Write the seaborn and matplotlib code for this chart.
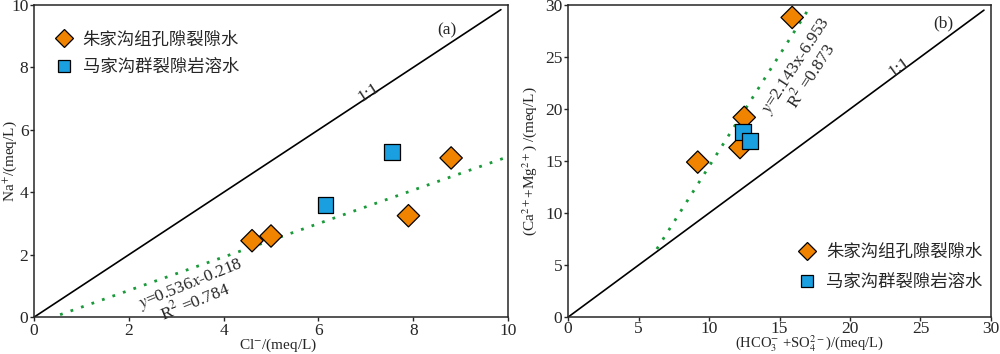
import matplotlib.pyplot as plt
import numpy as np
import pandas as pd
import seaborn as sns

# ---- data ----
groups = ["朱家沟组孔隙裂隙水", "马家沟群裂隙岩溶水"]

# (a) Cl- vs Na+
a_cl = [4.6, 5.0, 7.9, 8.8, 6.15, 7.55]
a_na = [2.45, 2.6, 3.25, 5.1, 3.6, 5.3]
a_group = [groups[0]] * 4 + [groups[1]] * 2

# (b) HCO3- + SO4 2- vs Ca2+ + Mg2+
b_anion = [9.2, 12.2, 12.5, 15.9, 12.4, 12.9]
b_cation = [14.9, 16.3, 19.2, 28.8, 17.8, 16.9]
b_group = [groups[0]] * 4 + [groups[1]] * 2

# fitted lines (end points) and 1:1 lines
fit_a_x = [0.55, 10.0]
fit_a_y = [0.08, 5.14]
fit_b_x = [6.3, 17.2]
fit_b_y = [6.55, 29.9]
one_a = [0, 9.85]
one_b = [0, 29.5]

sns.set_style("ticks")
plt.rcParams["font.family"] = ["Liberation Serif", "Noto Sans CJK SC"]
plt.rcParams["mathtext.fontset"] = "stix"

palette = {groups[0]: "#f08300", groups[1]: "#1aa0e0"}
markers = {groups[0]: "D", groups[1]: "s"}
cjk = ["Noto Sans CJK SC", "DejaVu Sans"]
fs = 12.5
lab_fs = 11

fig = plt.figure(figsize=(10, 3.54), dpi=100)
ax1 = fig.add_axes([0.034, 0.104, 0.474, 0.882])
ax2 = fig.add_axes([0.568, 0.104, 0.423, 0.882])

df_a = pd.DataFrame({"x": a_cl, "y": a_na, "group": a_group})
df_b = pd.DataFrame({"x": b_anion, "y": b_cation, "group": b_group})

for ax, df, one, fx, fy in [
    (ax1, df_a, one_a, fit_a_x, fit_a_y),
    (ax2, df_b, one_b, fit_b_x, fit_b_y),
]:
    ax.plot(one, one, color="black", lw=1.2, zorder=1)
    ax.plot(fx, fy, color="#1a9a3a", lw=2.0, ls=(0, (1, 3)), zorder=1)
    sns.scatterplot(
        data=df, x="x", y="y", hue="group", style="group",
        palette=palette, markers=markers, s=130, edgecolor="black",
        linewidth=0.9, ax=ax, zorder=3,
    )
    for sp in ax.spines.values():
        sp.set_linewidth(1.1)
    ax.tick_params(labelsize=fs, width=1, length=3, pad=1)

leg_kw = dict(frameon=False, prop={"family": cjk, "size": 12.5}, markerscale=0.8,
              handlelength=1.0, handletextpad=0.6)

# panel (a)
ax1.set_xlim(0, 10)
ax1.set_ylim(0, 10)
ax1.set_xticks(np.arange(0, 11, 2))
ax1.set_yticks(np.arange(0, 11, 2))
ax1.set_xlabel("Cl$^{-}$/(meq/L)", fontsize=lab_fs)
ax1.set_ylabel("Na$^{+}$/(meq/L)", fontsize=lab_fs)
ax1.xaxis.set_label_coords(0.516, -0.061)
ax1.yaxis.set_label_coords(-0.031, 0.5)
ax1.text(8.7, 9.2, "(a)", fontsize=fs, ha="center", va="center")
ax1.text(7.05, 7.2, "1:1", fontsize=fs, rotation=33, ha="center", va="center")
ax1.text(3.3, 1.05, "$y$=0.536$x$-0.218", fontsize=fs, rotation=22,
         ha="center", va="center")
ax1.text(3.4, 0.52, "R$^{2}$ =0.784", fontsize=fs, rotation=22,
         ha="center", va="center")
ax1.legend(loc="upper left", bbox_to_anchor=(0.0, 0.985), borderaxespad=0.8,
           labelspacing=0.55, **leg_kw)

# panel (b)
ax2.set_xlim(0, 30)
ax2.set_ylim(0, 30)
ax2.set_xticks(np.arange(0, 31, 5))
ax2.set_yticks(np.arange(0, 31, 5))
ax2.tick_params(axis="x", pad=0)
ax2.set_xlabel("(HCO$_3^{-}$ +SO$_4^{2-}$)/(meq/L)", fontsize=10.5)
ax2.set_ylabel("(Ca$^{2+}$+Mg$^{2+}$) /(meq/L)", fontsize=lab_fs)
ax2.xaxis.set_label_coords(0.57, -0.052)
ax2.yaxis.set_label_coords(-0.068, 0.5)
ax2.text(26.6, 28.2, "(b)", fontsize=fs, ha="center", va="center")
ax2.text(23.5, 24.0, "1:1", fontsize=fs, rotation=36, ha="center", va="center")
ax2.text(16.2, 24.1, "$y$=2.143x-6.953", fontsize=fs, rotation=57,
         ha="center", va="center")
ax2.text(17.2, 23.2, "R$^{2}$ =0.873", fontsize=fs, rotation=57,
         ha="center", va="center")
ax2.legend(loc="lower right", bbox_to_anchor=(1.0, 0.055), borderaxespad=0.1,
           labelspacing=0.7, **leg_kw)

fig.savefig("out.png", dpi=100)
